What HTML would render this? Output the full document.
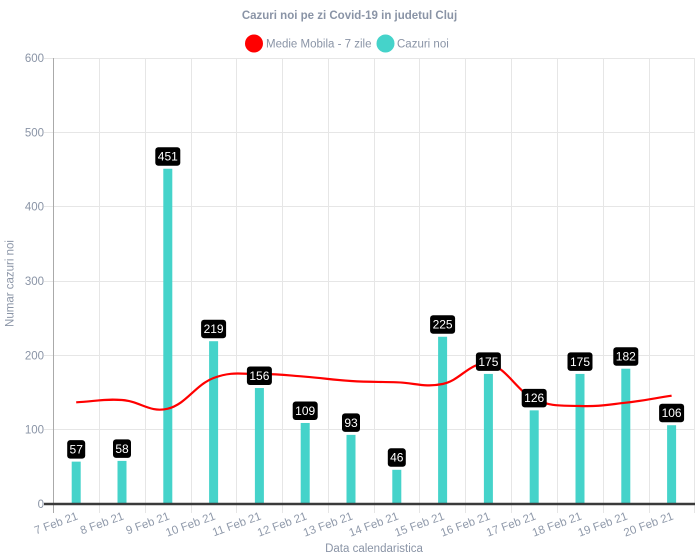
<!DOCTYPE html>
<html><head><meta charset="utf-8"><style>
html,body{margin:0;padding:0;background:#fff;}
svg{display:block;font-family:"Liberation Sans",sans-serif;}
</style></head><body>
<svg width="698" height="559" viewBox="0 0 698 559" xmlns="http://www.w3.org/2000/svg">
<rect width="698" height="559" fill="#fff"/>
<!-- title -->
<text x="349.5" y="19" text-anchor="middle" font-size="11.5" font-weight="bold" fill="#8a94a6">Cazuri noi pe zi Covid-19 in judetul Cluj</text>
<!-- legend -->
<circle cx="254" cy="43.5" r="9" fill="#ff0000"/>
<text x="266" y="47.5" font-size="11.5" fill="#8a94a6">Medie Mobila - 7 zile</text>
<circle cx="385.5" cy="43.5" r="9" fill="#45d3ca"/>
<text x="397" y="47.5" font-size="11.5" fill="#8a94a6">Cazuri noi</text>

<!-- horizontal gridlines -->
<g stroke="#e6e6e6" stroke-width="1">
<line x1="44" y1="58.5" x2="695" y2="58.5"/>
<line x1="44" y1="132.5" x2="695" y2="132.5"/>
<line x1="44" y1="206.5" x2="695" y2="206.5"/>
<line x1="44" y1="281.5" x2="695" y2="281.5"/>
<line x1="44" y1="355.5" x2="695" y2="355.5"/>
<line x1="44" y1="429.5" x2="695" y2="429.5"/>
</g>
<!-- vertical gridlines -->
<g stroke="#e6e6e6" stroke-width="1">
<line x1="99.5" y1="58" x2="99.5" y2="513"/>
<line x1="145.5" y1="58" x2="145.5" y2="513"/>
<line x1="191.5" y1="58" x2="191.5" y2="513"/>
<line x1="236.5" y1="58" x2="236.5" y2="513"/>
<line x1="282.5" y1="58" x2="282.5" y2="513"/>
<line x1="328.5" y1="58" x2="328.5" y2="513"/>
<line x1="374.5" y1="58" x2="374.5" y2="513"/>
<line x1="419.5" y1="58" x2="419.5" y2="513"/>
<line x1="465.5" y1="58" x2="465.5" y2="513"/>
<line x1="511.5" y1="58" x2="511.5" y2="513"/>
<line x1="557.5" y1="58" x2="557.5" y2="513"/>
<line x1="603.5" y1="58" x2="603.5" y2="513"/>
<line x1="649.5" y1="58" x2="649.5" y2="513"/>
<line x1="694.5" y1="58" x2="694.5" y2="513"/>
</g>
<line x1="53.5" y1="58" x2="53.5" y2="513" stroke="#aaaaaa" stroke-width="1"/>

<!-- y tick labels -->
<g font-size="11.5" fill="#8a94a6" text-anchor="end">
<text x="44" y="62">600</text>
<text x="44" y="136.5">500</text>
<text x="44" y="210.5">400</text>
<text x="44" y="285">300</text>
<text x="44" y="359.5">200</text>
<text x="44" y="433.5">100</text>
<text x="44" y="508">0</text>
</g>
<text transform="translate(13.5,283.5) rotate(-90)" text-anchor="middle" font-size="11.5" fill="#8a94a6">Numar cazuri noi</text>

<!-- bars -->
<g fill="#45d3ca">
<rect x="71.7" y="461.63" width="9" height="42.37"/>
<rect x="117.5" y="460.89" width="9" height="43.11"/>
<rect x="163.3" y="168.76" width="9" height="335.24"/>
<rect x="209.1" y="341.21" width="9" height="162.79"/>
<rect x="254.9" y="388.04" width="9" height="115.96"/>
<rect x="300.7" y="422.98" width="9" height="81.02"/>
<rect x="346.5" y="434.87" width="9" height="69.13"/>
<rect x="392.3" y="469.81" width="9" height="34.19"/>
<rect x="438.1" y="336.75" width="9" height="167.25"/>
<rect x="483.9" y="373.92" width="9" height="130.08"/>
<rect x="529.7" y="410.34" width="9" height="93.66"/>
<rect x="575.5" y="373.92" width="9" height="130.08"/>
<rect x="621.3" y="368.71" width="9" height="135.29"/>
<rect x="667.1" y="425.21" width="9" height="78.79"/>
</g>

<!-- zero line -->
<line x1="44" y1="504" x2="695" y2="504" stroke="#3a3a3a" stroke-width="2.5"/>

<!-- moving average -->
<path d="M76.2,402.3 C94.52,401.38 103.68,398.72 122,400 C140.32,401.28 149.48,413.1 167.8,408.7 C186.12,404.3 195.28,384.94 213.6,378 C231.92,371.06 241.08,374.26 259.4,374 C277.72,373.74 286.88,375.3 305.2,376.7 C323.52,378.1 332.68,379.88 351,381 C369.32,382.12 378.48,381.7 396.8,382.3 C415.12,382.9 424.28,387.66 442.6,384 C460.92,380.34 470.08,361 488.4,364 C506.72,367 515.88,390.6 534.2,399 C552.52,407.4 561.68,405.26 580,406 C598.32,406.74 607.48,404.76 625.8,402.7 C644.12,400.64 653.28,398.5 671.6,395.7" fill="none" stroke="#ff0000" stroke-width="2.2"/>

<!-- data labels -->
<g fill="#000">
<rect x="67.2" y="440.13" width="18" height="18.5" rx="3"/>
<rect x="113" y="439.39" width="18" height="18.5" rx="3"/>
<rect x="155.3" y="147.26" width="25" height="18.5" rx="3"/>
<rect x="201.1" y="319.71" width="25" height="18.5" rx="3"/>
<rect x="246.9" y="366.54" width="25" height="18.5" rx="3"/>
<rect x="292.7" y="401.48" width="25" height="18.5" rx="3"/>
<rect x="342" y="413.37" width="18" height="18.5" rx="3"/>
<rect x="387.8" y="448.31" width="18" height="18.5" rx="3"/>
<rect x="430.1" y="315.25" width="25" height="18.5" rx="3"/>
<rect x="475.9" y="352.42" width="25" height="18.5" rx="3"/>
<rect x="521.7" y="388.84" width="25" height="18.5" rx="3"/>
<rect x="567.5" y="352.42" width="25" height="18.5" rx="3"/>
<rect x="613.3" y="347.21" width="25" height="18.5" rx="3"/>
<rect x="659.1" y="403.71" width="25" height="18.5" rx="3"/>
</g>
<g fill="#fff" font-size="12" text-anchor="middle">
<text x="76.2" y="453.5">57</text>
<text x="122" y="452.8">58</text>
<text x="167.8" y="160.7">451</text>
<text x="213.6" y="333.1">219</text>
<text x="259.4" y="379.9">156</text>
<text x="305.2" y="414.9">109</text>
<text x="351" y="426.8">93</text>
<text x="396.8" y="461.7">46</text>
<text x="442.6" y="328.7">225</text>
<text x="488.4" y="365.8">175</text>
<text x="534.2" y="402.2">126</text>
<text x="580" y="365.8">175</text>
<text x="625.8" y="360.6">182</text>
<text x="671.6" y="417.1">106</text>
</g>

<!-- x tick labels -->
<g font-size="11.5" fill="#8f99aa" text-anchor="end">
<text transform="translate(78.7,519) rotate(-20)">7 Feb 21</text>
<text transform="translate(124.5,519) rotate(-20)">8 Feb 21</text>
<text transform="translate(170.3,519) rotate(-20)">9 Feb 21</text>
<text transform="translate(216.1,519) rotate(-20)">10 Feb 21</text>
<text transform="translate(261.9,519) rotate(-20)">11 Feb 21</text>
<text transform="translate(307.7,519) rotate(-20)">12 Feb 21</text>
<text transform="translate(353.5,519) rotate(-20)">13 Feb 21</text>
<text transform="translate(399.3,519) rotate(-20)">14 Feb 21</text>
<text transform="translate(445.1,519) rotate(-20)">15 Feb 21</text>
<text transform="translate(490.9,519) rotate(-20)">16 Feb 21</text>
<text transform="translate(536.7,519) rotate(-20)">17 Feb 21</text>
<text transform="translate(582.5,519) rotate(-20)">18 Feb 21</text>
<text transform="translate(628.3,519) rotate(-20)">19 Feb 21</text>
<text transform="translate(674.1,519) rotate(-20)">20 Feb 21</text>
</g>
<text x="374" y="552" text-anchor="middle" font-size="11.5" fill="#8a94a6">Data calendaristica</text>
</svg>
</body></html>
